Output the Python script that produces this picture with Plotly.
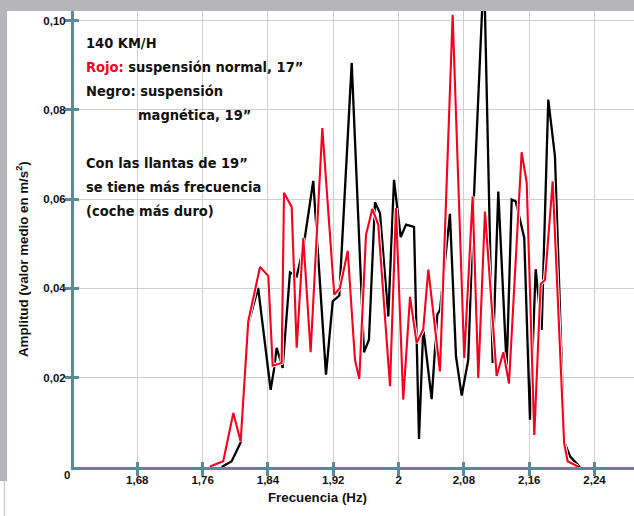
import plotly.graph_objects as go

# ---- data ----
red_freq = [1.769, 1.7853, 1.7976, 1.8066, 1.8159, 1.8303, 1.8404, 1.8458, 1.8568, 1.8597,
            1.8691, 1.8752, 1.8833, 1.8923, 1.9066, 1.9212, 1.9282, 1.9377, 1.9466, 1.9519,
            1.9601, 1.9678, 1.9751, 1.9895, 1.9968, 2.0057, 2.0140, 2.0221, 2.0302, 2.0364,
            2.0507, 2.0662, 2.0804, 2.0907, 2.0976, 2.1058, 2.1201, 2.1283, 2.1352, 2.1507,
            2.1569, 2.1662, 2.1740, 2.1793, 2.1887, 2.2027, 2.2070, 2.2196]
red_amp = [0.0001, 0.0013, 0.0121, 0.0057, 0.0326, 0.0448, 0.0428, 0.0227, 0.0233, 0.0614,
           0.0582, 0.0267, 0.0513, 0.0257, 0.0759, 0.0386, 0.0401, 0.0484, 0.0240, 0.0197,
           0.0520, 0.0578, 0.0543, 0.0181, 0.0580, 0.0151, 0.0381, 0.0278, 0.0308, 0.0442,
           0.0214, 0.1013, 0.0244, 0.0606, 0.0199, 0.0572, 0.0204, 0.0257, 0.0187, 0.0705,
           0.0637, 0.0072, 0.0410, 0.0419, 0.0640, 0.0054, 0.0013, 0.0001]

black_freq = [1.7834, 1.7956, 1.8066, 1.8159, 1.8280, 1.8433, 1.8474, 1.8507, 1.8580, 1.8670,
              1.8752, 1.8833, 1.8955, 1.9111, 1.9193, 1.9274, 1.9426, 1.9576, 1.9637, 1.9711,
              1.9772, 1.9874, 1.9944, 2.0026, 2.0091, 2.0189, 2.0250, 2.0302, 2.0405, 2.0474,
              2.0507, 2.0629, 2.0703, 2.0773, 2.0853, 2.0923, 2.1046, 2.1152, 2.1221, 2.1324,
              2.1385, 2.1434, 2.1539, 2.1609, 2.1679, 2.1752, 2.1833, 2.1915, 2.2029, 2.2099,
              2.2221]
black_amp = [0.0, 0.0013, 0.0055, 0.0320, 0.0401, 0.0173, 0.0218, 0.0267, 0.0222, 0.0436,
             0.0427, 0.0490, 0.0641, 0.0207, 0.0371, 0.0384, 0.0905, 0.0257, 0.0285, 0.0593,
             0.0569, 0.0337, 0.0643, 0.0515, 0.0543, 0.0538, 0.0063, 0.0311, 0.0152, 0.0341,
             0.0352, 0.0567, 0.0248, 0.0160, 0.0240, 0.0606, 0.1120, 0.0233, 0.0617, 0.0222,
             0.0599, 0.0595, 0.0513, 0.0106, 0.0443, 0.0307, 0.0823, 0.0696, 0.0057, 0.0024,
             0.0]

x_tickvals = [1.68, 1.76, 1.84, 1.92, 2.00, 2.08, 2.16, 2.24]
x_ticktext = ["1,68", "1,76", "1,84", "1,92", "2", "2,08", "2,16", "2,24"]
y_tickvals = [0.02, 0.04, 0.06, 0.08, 0.10]
y_ticktext = ["0,02", "0,04", "0,06", "0,08", "0,10"]

x_range = [1.6025, 2.2883]
y_range = [0, 0.10213]

AXIS = "#5b8a96"
GRID = "#cfcfcf"
RED = "#f5001e"
GREY_BG = "#b5b5ba"
FONT = "Liberation Sans, Arial, sans-serif"
COND = "DejaVu Sans Condensed, Liberation Sans, sans-serif"

W, H = 634, 516
ML, MR, MT, MB = 74, 0, 11, 49
PW, PH = W - ML - MR, H - MT - MB


def to_px(xp):
    return (xp - ML) / PW


def to_py(yp):
    return (H - MB - yp) / PH


fig = go.Figure()
fig.add_trace(go.Scatter(x=black_freq, y=black_amp, mode="lines",
                         line=dict(color="#000000", width=2.3), hoverinfo="skip"))
fig.add_trace(go.Scatter(x=red_freq, y=red_amp, mode="lines",
                         line=dict(color="#ffffff", width=4), hoverinfo="skip"))
fig.add_trace(go.Scatter(x=red_freq, y=red_amp, mode="lines",
                         line=dict(color=RED, width=2.1), hoverinfo="skip"))
# invisible trace for the overlay axes carrying the inner half of the ticks
fig.add_trace(go.Scatter(x=[x_range[0]], y=[0], xaxis="x2", yaxis="y2", mode="markers",
                         marker=dict(opacity=0), hoverinfo="skip"))

tickfont = dict(family=FONT, size=11.5, color="#111111", weight=700)

shapes = [
    dict(type="rect", xref="paper", yref="paper", x0=to_px(0), x1=to_px(W), y0=to_py(11), y1=to_py(0),
         fillcolor=GREY_BG, line=dict(width=0), layer="below"),
    dict(type="rect", xref="paper", yref="paper", x0=to_px(0), x1=to_px(7), y0=to_py(481), y1=to_py(0),
         fillcolor=GREY_BG, line=dict(width=0), layer="below"),
    dict(type="line", xref="paper", yref="paper", x0=to_px(4.5), x1=to_px(4.5), y0=to_py(516), y1=to_py(481),
         line=dict(color="#cfcfd2", width=1.5), layer="below"),
]

fig.update_layout(
    width=W, height=H,
    margin=dict(l=ML, r=MR, t=MT, b=MB),
    paper_bgcolor="#ffffff", plot_bgcolor="#ffffff",
    showlegend=False,
    shapes=shapes,
    xaxis=dict(range=x_range, tickvals=x_tickvals, ticktext=x_ticktext,
               showgrid=True, gridcolor=GRID, gridwidth=1.3, zeroline=False,
               showline=True, linecolor=AXIS, linewidth=3,
               ticks="outside", ticklen=6, tickwidth=3, tickcolor=AXIS,
               ticklabelstandoff=-6, tickfont=tickfont),
    yaxis=dict(range=y_range, tickvals=y_tickvals, ticktext=y_ticktext,
               showgrid=True, gridcolor=GRID, gridwidth=1.3, zeroline=False,
               showline=True, linecolor=AXIS, linewidth=3,
               ticks="outside", ticklen=6, tickwidth=3, tickcolor=AXIS,
               ticklabelstandoff=-3, tickfont=tickfont),
    xaxis2=dict(range=x_range, overlaying="x", tickvals=x_tickvals, showticklabels=False,
                showgrid=False, zeroline=False, showline=False,
                ticks="inside", ticklen=5, tickwidth=3, tickcolor=AXIS),
    yaxis2=dict(range=y_range, overlaying="y", tickvals=y_tickvals, showticklabels=False,
                showgrid=False, zeroline=False, showline=False,
                ticks="inside", ticklen=5, tickwidth=3, tickcolor=AXIS),
)

ann_font = dict(family=COND, size=14.5, color="#111111", weight=700)
lines = [
    (84, 43, "140 KM/H"),
    (84, 67, "<span style='color:%s'>Rojo:</span> suspensión normal, 17”" % RED),
    (84, 91, "Negro: suspensión"),
    (136, 115, "magnética, 19”"),
    (84, 163, "Con las llantas de 19”"),
    (84, 187, "se tiene más frecuencia"),
    (84, 211, "(coche más duro)"),
]
for xp, yp, t in lines:
    fig.add_annotation(x=to_px(xp), y=to_py(yp), xref="paper", yref="paper", text=t,
                       showarrow=False, xanchor="left", yanchor="middle", font=ann_font)

title_font = dict(family=FONT, size=13.3, color="#111111", weight=700)
fig.add_annotation(x=to_px(317), y=to_py(497), xref="paper", yref="paper", text="Frecuencia (Hz)",
                   showarrow=False, xanchor="center", yanchor="middle", font=title_font)
fig.add_annotation(x=to_px(22), y=to_py(259), xref="paper", yref="paper",
                   text="Amplitud (valor medio en m/s<sup>2</sup>)", textangle=-90,
                   showarrow=False, xanchor="center", yanchor="middle", font=title_font)
fig.add_annotation(x=to_px(67), y=to_py(475), xref="paper", yref="paper", text="0",
                   showarrow=False, xanchor="center", yanchor="middle", font=tickfont)

fig.write_html("out.html", config={"displayModeBar": False},
               post_script="document.body.style.margin='0';document.body.style.overflow='hidden';")
